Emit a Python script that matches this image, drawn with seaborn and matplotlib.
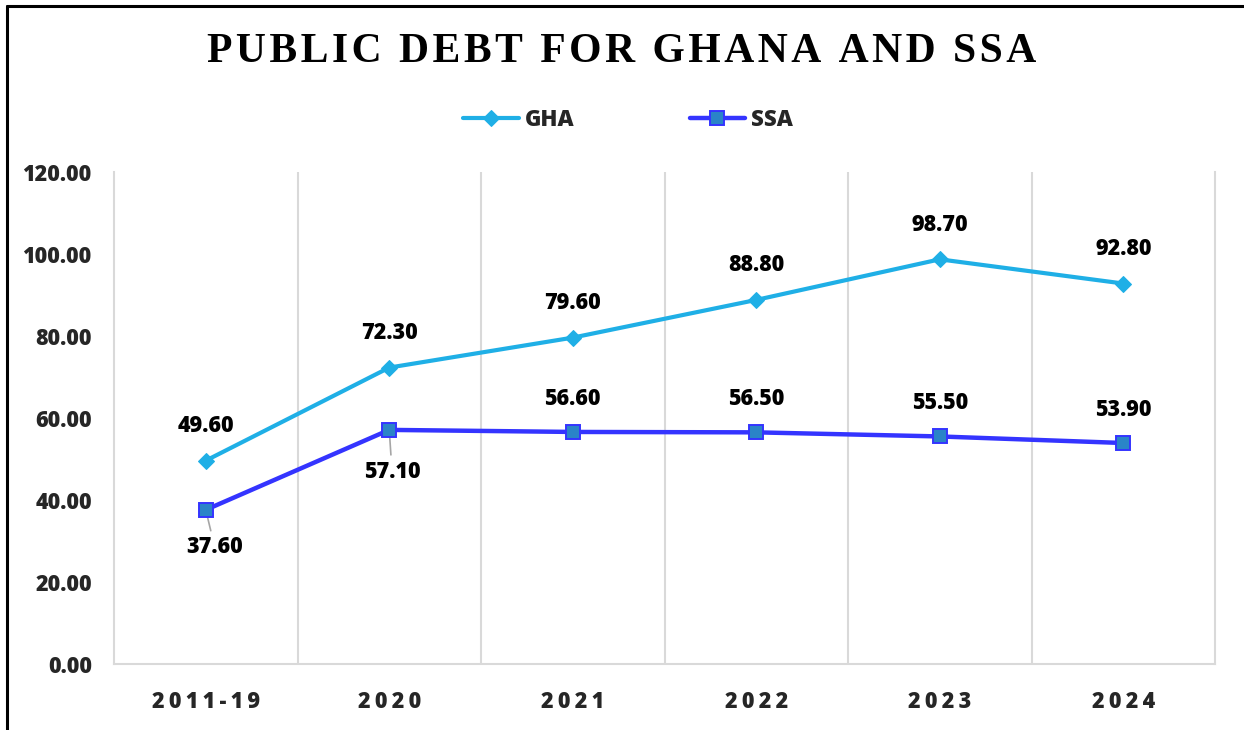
import numpy as np
import pandas as pd
import matplotlib
matplotlib.use("Agg")
import matplotlib.pyplot as plt
from matplotlib.lines import Line2D
import seaborn as sns

# Public debt (% of GDP)
periods = ["2011-19", "2020", "2021", "2022", "2023", "2024"]
gha_debt = [49.6, 72.3, 79.6, 88.8, 98.7, 92.8]
ssa_debt = [37.6, 57.1, 56.6, 56.5, 55.5, 53.9]

GHA_COLOR = "#1FAFE6"
SSA_LINE = "#3434FF"
SSA_FILL = "#2A84C8"
GRID = "#D9D9D9"
WEIGHT = "heavy"

sns.set_theme(style="white")
plt.rcParams["font.family"] = ["Open Sans", "DejaVu Sans"]
plt.rcParams["font.weight"] = "bold"

fig = plt.figure(figsize=(12.44, 7.30), dpi=100)
ax = fig.add_axes([114 / 1244, 1 - 664 / 730, (1215 - 114) / 1244, (664 - 172) / 730])

idx = np.arange(len(periods))
df = pd.DataFrame({"idx": idx, "GHA": gha_debt, "SSA": ssa_debt})

sns.lineplot(data=df, x="idx", y="GHA", ax=ax, color=GHA_COLOR, lw=3.0,
             marker="D", markersize=8.5, markeredgecolor=GHA_COLOR,
             markerfacecolor=GHA_COLOR, label="GHA", zorder=3)
sns.lineplot(data=df, x="idx", y="SSA", ax=ax, color=SSA_LINE, lw=3.2,
             marker="s", markersize=10.5, markeredgecolor=SSA_LINE,
             markeredgewidth=1.4, markerfacecolor=SSA_FILL, label="SSA", zorder=3)

# axes, ticks and grid
ax.set_xlim(-0.5, len(periods) - 0.5)
ax.set_ylim(0, 120)
ax.set_yticks(np.arange(0, 121, 20))
ax.set_yticklabels([f"{v:.2f}" for v in np.arange(0, 121, 20)], fontsize=15.5, fontweight=WEIGHT)
ax.set_xticks(idx)
ax.set_xticklabels(["\u2009".join(p) for p in periods], fontsize=15.5, fontweight=WEIGHT)
ax.tick_params(axis="y", length=0, pad=16)
ax.tick_params(axis="x", length=0, pad=19)
ax.set_xticks(np.arange(0.5, len(periods) - 0.5, 1), minor=True)
ax.tick_params(which="minor", length=0)
ax.grid(False)
ax.grid(True, which="minor", axis="x", color=GRID, lw=1.5)
for side in ["left", "bottom", "right"]:
    ax.spines[side].set_color(GRID)
    ax.spines[side].set_linewidth(1.5)
ax.spines["top"].set_visible(False)
ax.set_xlabel("")
ax.set_ylabel("")

# value labels
for i, v in enumerate(gha_debt):
    ax.annotate(f"{v:.2f}", (i, v), xytext=(0, 25), textcoords="offset points",
                ha="center", va="center", fontsize=15.5, fontweight=WEIGHT, color="#000000")

ssa_offsets = [(6.5, -27), (2, -30), (0, 24), (0, 24), (0, 24), (0, 24)]
for i, (v, off) in enumerate(zip(ssa_debt, ssa_offsets)):
    props = None
    if off[1] < 0:
        props = dict(arrowstyle="-", color="#A6A6A6", lw=1.2, shrinkA=1, shrinkB=1)
    ax.annotate(f"{v:.2f}", (i, v), xytext=off, textcoords="offset points",
                ha="center", va="center", fontsize=15.5, fontweight=WEIGHT,
                color="#000000", arrowprops=props, zorder=2)

# legend
leg = ax.legend(loc="center", bbox_to_anchor=(628 / 1244, 1 - 120 / 730),
                bbox_transform=fig.transFigure, ncol=2, frameon=False,
                prop={"size": 16, "weight": WEIGHT}, handlelength=2.5,
                handletextpad=0.25, columnspacing=5.2)

# title
fig.text(622 / 1244, 1 - 52 / 730, "\u200a".join("PUBLIC DEBT FOR GHANA AND SSA"),
         ha="center", va="center", fontsize=30, fontweight="bold",
         family=["Liberation Serif", "DejaVu Serif"], color="#000000")

# outer frame
fig.add_artist(Line2D([7 / 1244, 7 / 1244], [0, 1 - 6 / 730], color="black", lw=2.2,
                      transform=fig.transFigure))
fig.add_artist(Line2D([7 / 1244, 1], [1 - 6 / 730, 1 - 6 / 730], color="black", lw=2.2,
                      transform=fig.transFigure))

fig.savefig("out.png", dpi=100)
